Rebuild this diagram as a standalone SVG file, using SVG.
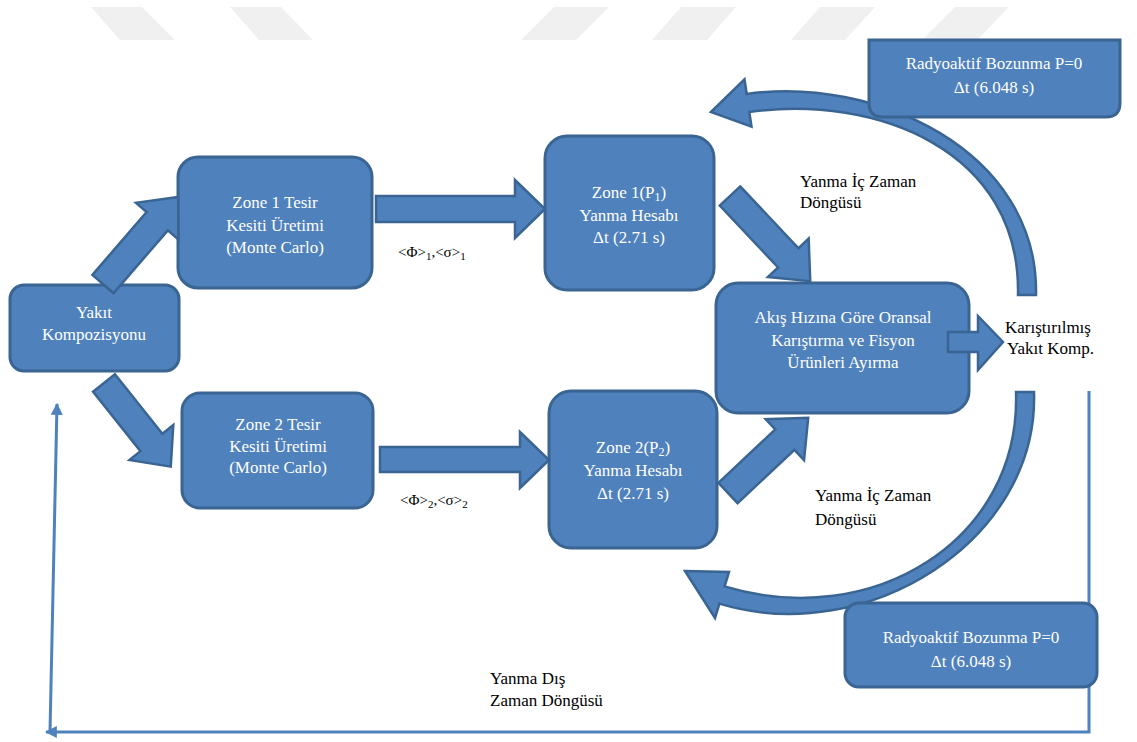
<svg xmlns="http://www.w3.org/2000/svg" width="1137" height="742" viewBox="0 0 1137 742" font-family="Liberation Serif, Times New Roman, serif">
<defs>
<style>
.box{fill:#4f81bd;stroke:#3a6592;stroke-width:3}
.arr{fill:#4f81bd;stroke:#3a6592;stroke-width:2.5;stroke-linejoin:miter}
.wt{font-size:17px;fill:#ffffff;text-anchor:middle}
.bt{font-size:17px;fill:#000000}
.st{font-size:15px;fill:#000000}
.ln{fill:none;stroke:#4f81bd;stroke-width:3}
.wm{fill:#f0f0f0}
</style>
<marker id="ah" viewBox="0 0 10 10" refX="9" refY="5" markerWidth="4" markerHeight="4" orient="auto-start-reverse" markerUnits="strokeWidth">
<path d="M0,0 L10,5 L0,10 Z" fill="#4f81bd"/>
</marker>
</defs>
<rect width="1137" height="742" fill="#ffffff"/>
<g id="watermark">
<polygon class="wm" points="91,7 142,7 175,40 120,40"/>
<polygon class="wm" points="230,7 281,7 313,40 259,40"/>
<polygon class="wm" points="554,7 609,7 576,40 521,40"/>
<polygon class="wm" points="681,7 736,7 707,40 652,40"/>
<polygon class="wm" points="820,7 875,7 845,40 791,40"/>
<polygon class="wm" points="955,7 1009,7 977,40 922,40"/>
</g>
<g id="connectors">
<polyline class="ln" points="1089,391 1089,732 46,732" marker-end="url(#ah)"/>
<polyline class="ln" points="50,732 57,404" marker-end="url(#ah)"/>
<path class="arr" d="M711 112 L744.5 79.3 L746.7 94 C873.7 75.5 1039 150 1036 295 L1018 295 C1021 150 876.3 94.5 749.3 112 L751.5 126.7 Z"/>
<path class="arr" d="M685 571 L729 572 L724.6 586.4 C872.6 631.4 1021 540 1016 392 L1034 392 C1039 540 867.4 648.6 719.4 603.6 L715 618 Z"/>
</g>
<g id="n-yakit"><rect class="box" x="10" y="285" width="169" height="86" rx="14"/>
<text class="wt" x="94" y="318">Yakıt</text><text class="wt" x="94" y="340">Kompozisyonu</text></g>
<g id="n-zone1tesir"><rect class="box" x="178" y="157" width="194" height="131" rx="20"/>
<text class="wt" x="275" y="208">Zone 1 Tesir</text><text class="wt" x="275" y="231">Kesiti Üretimi</text><text class="wt" x="275" y="253">(Monte Carlo)</text></g>
<g id="n-zone1p"><rect class="box" x="545" y="136" width="169" height="154" rx="22"/>
<text class="wt" x="629" y="198">Zone 1(P<tspan font-size="12" dy="3">1</tspan><tspan dy="-3">)</tspan></text><text class="wt" x="629" y="221">Yanma Hesabı</text><text class="wt" x="629" y="243">Δt (2.71 s)</text></g>
<g id="n-zone2tesir"><rect class="box" x="182" y="393" width="191" height="115" rx="18"/>
<text class="wt" x="278" y="430">Zone 2 Tesir</text><text class="wt" x="278" y="452">Kesiti Üretimi</text><text class="wt" x="278" y="473">(Monte Carlo)</text></g>
<g id="n-zone2p"><rect class="box" x="549" y="391" width="168" height="157" rx="22"/>
<text class="wt" x="633" y="453">Zone 2(P<tspan font-size="12" dy="3">2</tspan><tspan dy="-3">)</tspan></text><text class="wt" x="633" y="476">Yanma Hesabı</text><text class="wt" x="633" y="499">Δt (2.71 s)</text></g>
<g id="n-mix"><rect class="box" x="716" y="283" width="253" height="130" rx="22"/>
<text class="wt" x="843" y="323">Akış Hızına Göre Oransal</text><text class="wt" x="843" y="346">Karıştırma ve Fisyon</text><text class="wt" x="843" y="368">Ürünleri Ayırma</text></g>
<g id="n-radyo1"><path class="box" d="M869 40 H1120 V103 Q1120 117 1106 117 H883 Q869 117 869 103 Z"/>
<text class="wt" x="994" y="69">Radyoaktif Bozunma P=0</text><text class="wt" x="994" y="93">Δt (6.048 s)</text></g>
<g id="n-radyo2"><rect class="box" x="845" y="603" width="252" height="84" rx="14"/>
<text class="wt" x="971" y="643">Radyoaktif Bozunma P=0</text><text class="wt" x="971" y="667">Δt (6.048 s)</text></g>
<g id="block-arrows">
<polygon class="arr" transform="translate(103,284) rotate(-49.2)" points="0,-14 83,-14 83,-28 115,0 83,28 83,14 0,14"/>
<polygon class="arr" transform="translate(104,383) rotate(51.4)" points="0,-14 76,-14 76,-28 107,0 76,28 76,14 0,14"/>
<polygon class="arr" transform="translate(730,196) rotate(46.7)" points="0,-14 85,-14 85,-28 117,0 85,28 85,14 0,14"/>
<polygon class="arr" transform="translate(728,493) rotate(-43.2)" points="0,-14 78,-14 78,-28 110,0 78,28 78,14 0,14"/>
<polygon class="arr" points="376,196 515,196 515,180 545,209 515,238 515,222 376,222"/>
<polygon class="arr" points="380,447 520,447 520,432 549,460 520,488 520,472 380,472"/>
<polygon class="arr" points="948,332 978,332 978,316 1003,342 978,370 978,352 948,352"/>
</g>
<g id="labels">
<text class="st" x="398" y="257">&lt;Φ&gt;<tspan font-size="11" dy="3">1</tspan><tspan dy="-3">,&lt;σ&gt;</tspan><tspan font-size="11" dy="3">1</tspan></text>
<text class="st" x="400" y="505">&lt;Φ&gt;<tspan font-size="11" dy="3">2</tspan><tspan dy="-3">,&lt;σ&gt;</tspan><tspan font-size="11" dy="3">2</tspan></text>
<text class="bt" x="1005" y="333">Karıştırılmış</text>
<text class="bt" x="1007" y="354">Yakıt Komp.</text>
<text class="bt" x="800" y="187">Yanma İç Zaman</text>
<text class="bt" x="800" y="208">Döngüsü</text>
<text class="bt" x="815" y="501">Yanma İç Zaman</text>
<text class="bt" x="815" y="525">Döngüsü</text>
<text class="bt" x="490" y="684">Yanma Dış</text>
<text class="bt" x="490" y="706">Zaman Döngüsü</text>
</g>
</svg>
